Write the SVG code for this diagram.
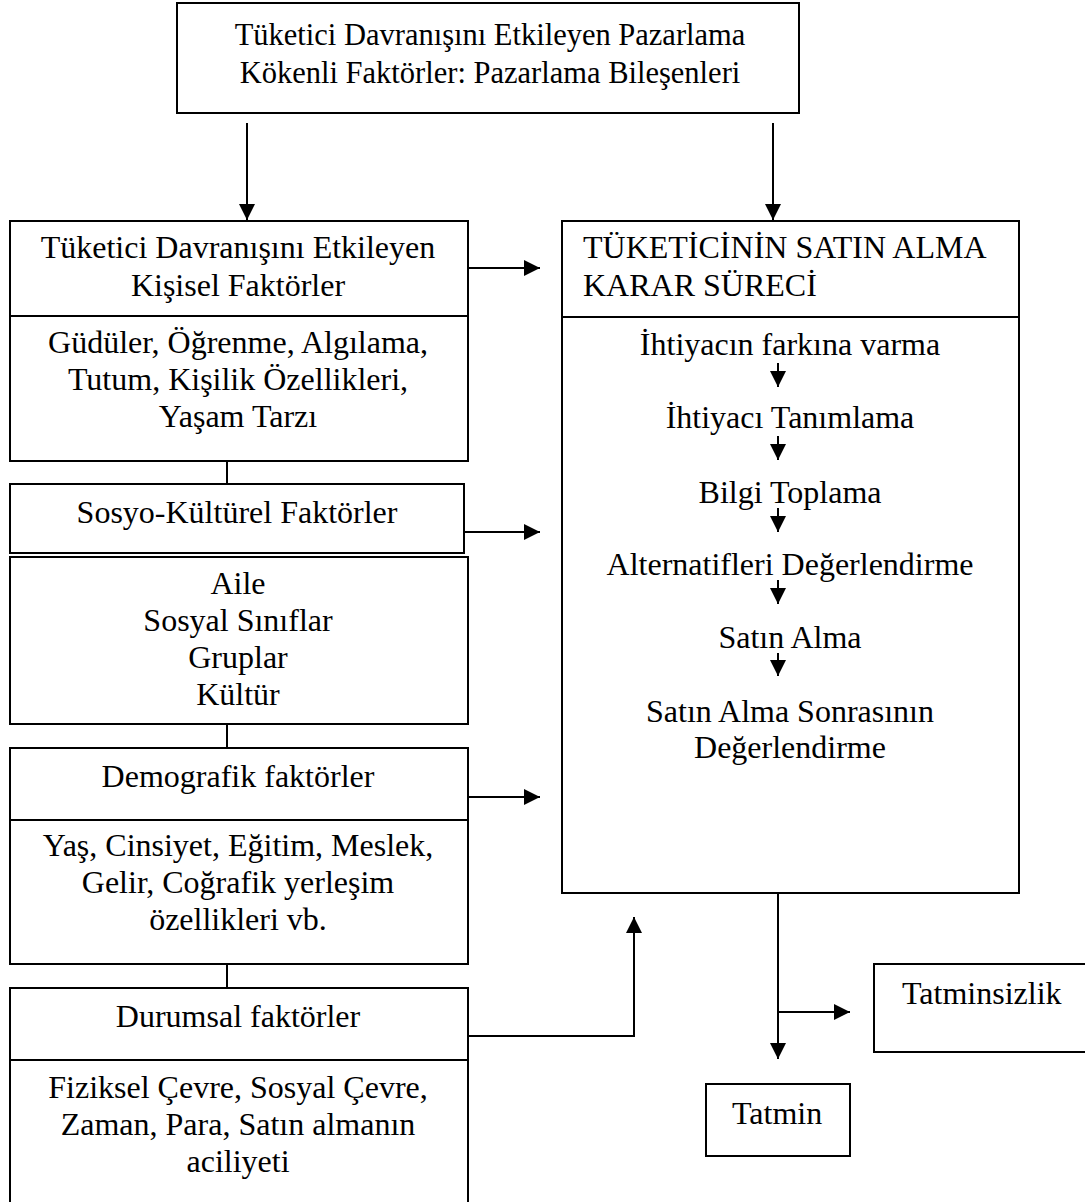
<svg xmlns="http://www.w3.org/2000/svg" width="1085" height="1202" viewBox="0 0 1085 1202">
  <style>
    .box { fill: #fff; stroke: #000; stroke-width: 2; }
    .div { stroke: #000; stroke-width: 2; }
    .t { font-family: "Liberation Serif", "Times New Roman", serif; font-size: 32px; fill: #000; }
    .c { text-anchor: middle; }
    .line { fill: none; stroke: #000; stroke-width: 2; }
  </style>
  <defs>
    <marker id="arrow" viewBox="0 0 16 16" refX="16" refY="8" markerWidth="16" markerHeight="16" markerUnits="userSpaceOnUse" orient="auto">
      <path d="M0,0 L16,8 L0,16 Z" fill="#000"/>
    </marker>
  </defs>
  <rect width="1085" height="1202" fill="#fff"/>

  <g id="marketing">
    <rect class="box" x="177" y="3" width="622" height="110"/>
    <text class="t c" x="490" y="45" style="font-size:30.5px">Tüketici Davranışını Etkileyen Pazarlama</text>
    <text class="t c" x="490" y="83" style="font-size:30.5px">Kökenli Faktörler: Pazarlama Bileşenleri</text>
  </g>

  <g id="personal">
    <rect class="box" x="10" y="221" width="458" height="240"/>
    <line class="div" x1="10" y1="316" x2="468" y2="316"/>
    <text class="t c" x="238" y="258">Tüketici Davranışını Etkileyen</text>
    <text class="t c" x="238" y="296">Kişisel Faktörler</text>
    <text class="t c" x="238" y="353">Güdüler, Öğrenme, Algılama,</text>
    <text class="t c" x="238" y="390">Tutum, Kişilik Özellikleri,</text>
    <text class="t c" x="238" y="427">Yaşam Tarzı</text>
  </g>

  <g id="sociocultural">
    <rect class="box" x="10" y="484" width="454" height="69"/>
    <text class="t c" x="237" y="523">Sosyo-Kültürel Faktörler</text>
  </g>

  <g id="sociocultural-items">
    <rect class="box" x="10" y="557" width="458" height="167"/>
    <text class="t c" x="238" y="594">Aile</text>
    <text class="t c" x="238" y="631">Sosyal Sınıflar</text>
    <text class="t c" x="238" y="668">Gruplar</text>
    <text class="t c" x="238" y="705">Kültür</text>
  </g>

  <g id="demographic">
    <rect class="box" x="10" y="748" width="458" height="216"/>
    <line class="div" x1="10" y1="820" x2="468" y2="820"/>
    <text class="t c" x="238" y="787">Demografik faktörler</text>
    <text class="t c" x="238" y="856">Yaş, Cinsiyet, Eğitim, Meslek,</text>
    <text class="t c" x="238" y="893">Gelir, Coğrafik yerleşim</text>
    <text class="t c" x="238" y="930">özellikleri vb.</text>
  </g>

  <g id="situational">
    <rect class="box" x="10" y="988" width="458" height="220"/>
    <line class="div" x1="10" y1="1060" x2="468" y2="1060"/>
    <text class="t c" x="238" y="1027">Durumsal faktörler</text>
    <text class="t c" x="238" y="1098">Fiziksel Çevre, Sosyal Çevre,</text>
    <text class="t c" x="238" y="1135">Zaman, Para, Satın almanın</text>
    <text class="t c" x="238" y="1172">aciliyeti</text>
  </g>

  <g id="decision-process">
    <rect class="box" x="562" y="221" width="457" height="672"/>
    <line class="div" x1="562" y1="317" x2="1019" y2="317"/>
    <text class="t" x="583" y="258">TÜKETİCİNİN SATIN ALMA</text>
    <text class="t" x="583" y="296">KARAR SÜRECİ</text>
    <text class="t c" x="790" y="355">İhtiyacın farkına varma</text>
    <text class="t c" x="790" y="428">İhtiyacı Tanımlama</text>
    <text class="t c" x="790" y="503">Bilgi Toplama</text>
    <text class="t c" x="790" y="575">Alternatifleri Değerlendirme</text>
    <text class="t c" x="790" y="648">Satın Alma</text>
    <text class="t c" x="790" y="722">Satın Alma Sonrasının</text>
    <text class="t c" x="790" y="758">Değerlendirme</text>
  </g>

  <g id="dissatisfaction">
    <rect class="box" x="874" y="964" width="230" height="88"/>
    <text class="t" x="902" y="1004">Tatminsizlik</text>
  </g>

  <g id="satisfaction">
    <rect class="box" x="706" y="1084" width="144" height="72"/>
    <text class="t" x="732" y="1124">Tatmin</text>
  </g>

  <!-- connectors, drawn over the boxes -->
  <g id="connectors" class="line">
    <line x1="247" y1="123" x2="247" y2="220" marker-end="url(#arrow)"/>
    <line x1="773" y1="123" x2="773" y2="220" marker-end="url(#arrow)"/>
    <line x1="468" y1="268" x2="540" y2="268" marker-end="url(#arrow)"/>
    <line x1="464" y1="532" x2="540" y2="532" marker-end="url(#arrow)"/>
    <line x1="468" y1="797" x2="540" y2="797" marker-end="url(#arrow)"/>
    <polyline points="468,1036 634,1036 634,917" marker-end="url(#arrow)"/>
    <line x1="227" y1="461" x2="227" y2="484"/>
    <line x1="227" y1="724" x2="227" y2="748"/>
    <line x1="227" y1="964" x2="227" y2="988"/>
    <line x1="778" y1="893" x2="778" y2="1059" marker-end="url(#arrow)"/>
    <line x1="778" y1="1012" x2="850" y2="1012" marker-end="url(#arrow)"/>
    <!-- steps inside the decision process -->
    <line x1="778" y1="363" x2="778" y2="387" marker-end="url(#arrow)"/>
    <line x1="778" y1="436" x2="778" y2="460" marker-end="url(#arrow)"/>
    <line x1="778" y1="508" x2="778" y2="532" marker-end="url(#arrow)"/>
    <line x1="778" y1="580" x2="778" y2="604" marker-end="url(#arrow)"/>
    <line x1="778" y1="653" x2="778" y2="676" marker-end="url(#arrow)"/>
  </g>
</svg>
